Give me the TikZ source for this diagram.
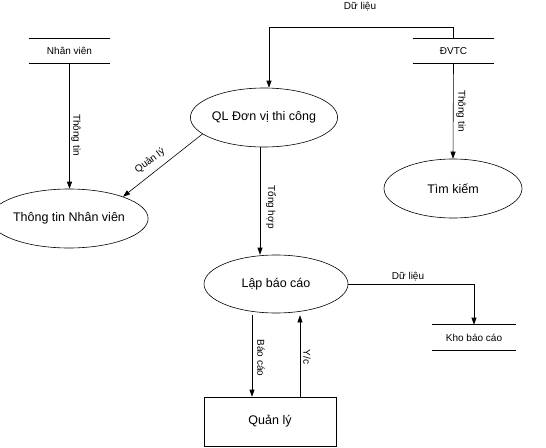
\documentclass[tikz,border=0pt]{standalone}
\usepackage{fontspec}
\setmainfont{Liberation Sans}
\usetikzlibrary{shapes.geometric,arrows.meta}
\begin{document}
\begin{tikzpicture}[x=1pt,y=-1pt,
  proc/.style={draw,ellipse,inner sep=0pt,font=\fontsize{12.5}{14}\selectfont},
  box/.style={draw,rectangle,inner sep=0pt,font=\fontsize{12.5}{14}\selectfont},
  store/.style={inner sep=0pt,minimum width=81pt,minimum height=24pt,font=\fontsize{10}{12}\selectfont},
  lbl/.style={inner sep=0pt,font=\fontsize{10}{12}\selectfont},
  flow/.style={-{Triangle[length=7pt,width=5pt]},line width=0.6pt},
  line width=0.6pt]
\useasboundingbox (0,0) rectangle (546,447);
% stores
\node[store] (nv) at (69.5,51) {Nhân viên};
\node[store] (dvtc) at (453.5,51) {ĐVTC};
\node[store,minimum width=84pt,minimum height=25pt] (kho) at (474,337.5) {Kho báo cáo};
\foreach \s in {nv,dvtc,kho}{
  \draw (\s.north west) -- (\s.north east) (\s.south west) -- (\s.south east);}
% processes
\node[proc,minimum width=138pt,minimum height=59pt] (ql) at (264,117.5) {QL Đơn vị thi công};
\node[proc,minimum width=138pt,minimum height=59pt] (tk) at (453,188.5) {Tìm kiếm};
\node[proc,minimum width=136pt,minimum height=59pt] (ttnv) at (69,218.5) {Thông tin Nhân viên};
\node[proc,minimum width=144pt,minimum height=58pt] (lbc) at (276,284) {Lập báo cáo};
\node[box,minimum width=132pt,minimum height=49pt] (qly) at (270,421.5) {Quản lý};
% helper coordinates
\coordinate (c1) at (269,27);
\coordinate (x1) at (260,0);
\coordinate (x2) at (252,0);
\coordinate (x3) at (300,0);
% connectors
\draw[flow] (nv.south) -- (nv.south |- ttnv.north);
\draw[flow] (dvtc.north) |- (c1) -- (c1 |- ql.north);
\draw[flow] (dvtc.south) -- (tk.north);
\draw[flow] (ql.195) -- (ttnv.22);
\draw[flow] (x1 |- ql.south) -- (x1 |- lbc.north);
\draw[flow] (lbc.east) -| (kho.north);
\draw[flow] ([yshift=-2pt]x2 |- lbc.south) -- (x2 |- qly.north);
\draw[flow] (x3 |- qly.north) -- ([yshift=-2pt]x3 |- lbc.south);
% labels
\node[lbl] (l1) at (360,7) {Dữ liệu};
\node[lbl,rotate=-90] (l2) at (76,135) {Thông tin};
\node[lbl,rotate=-90] (l3) at (461,111) {Thông tin};
\node[lbl,rotate=37] (l4) at (150,161) {Quản lý};
\node[lbl,rotate=-90] (l5) at (271,207) {Tổng hợp};
\node[lbl] (l6) at (408,277) {Dữ liệu};
\node[lbl,rotate=-90] (l7) at (261,358) {Báo cáo};
\node[lbl,rotate=-90] (l8) at (307,357) {Y/c};
\end{tikzpicture}
\end{document}
